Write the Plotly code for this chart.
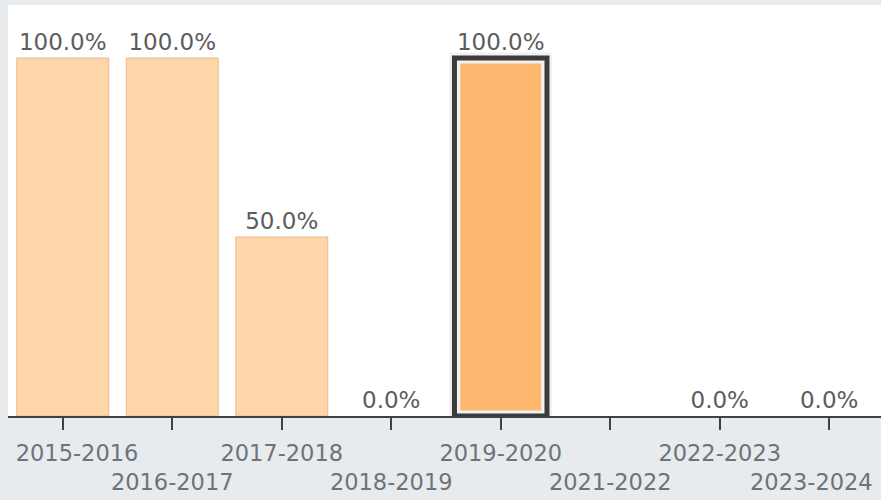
import plotly.graph_objects as go

categories = ["2015-2016", "2016-2017", "2017-2018", "2018-2019", "2019-2020",
              "2021-2022", "2022-2023", "2023-2024"]
values = [100, 100, 50, 0, 100, None, 0, 0]
highlight = "2019-2020"

labels = ["" if v is None else f"{v:.1f}%" for v in values]
hl_values = [v if c == highlight else None for c, v in zip(categories, values)]
edge_widths = [1 if v else 0 for v in values]

NB = "\u00a0"
ticktext = []
for i, c in enumerate(categories):
    t = c
    if i == 0:
        t = NB * 4 + t
    if i == len(categories) - 1:
        t = t + NB * 5
    if i % 2 == 1:
        t = "<br>" + t
    ticktext.append(t)

FONT = "DejaVu Sans"

fig = go.Figure()
fig.add_trace(go.Bar(
    x=categories, y=values, width=0.84,
    marker=dict(color="#FFD6A9", line=dict(color="#E8BC8E", width=edge_widths)),
    text=labels, textposition="outside", cliponaxis=False,
    textfont=dict(family=FONT, size=23, color="#5c5c5c"),
    hoverinfo="skip",
))
fig.add_trace(go.Bar(
    x=categories, y=hl_values, width=0.84,
    marker=dict(color="#FFB870", line=dict(color="#F1F1F1", width=11)),
    hoverinfo="skip",
))
fig.add_trace(go.Bar(
    x=categories, y=hl_values, width=0.845,
    marker=dict(color="rgba(0,0,0,0)", line=dict(color="#3b3b3b", width=5)),
    hoverinfo="skip",
))

fig.update_layout(
    width=881, height=500,
    barmode="overlay", showlegend=False,
    paper_bgcolor="#E8EBEE", plot_bgcolor="#FFFFFF",
    margin=dict(l=8, r=0, t=5, b=84, autoexpand=False),
    xaxis=dict(
        type="category", range=[-0.5, 7.473], automargin=False,
        tickmode="array", tickvals=categories, ticktext=ticktext, tickangle=0,
        showline=True, linecolor="#3d4247", linewidth=2,
        ticks="outside", ticklen=12, tickwidth=2, tickcolor="#3d4247",
        ticklabelstandoff=4,
        tickfont=dict(family=FONT, size=22.5, color="#6d737a"),
        showgrid=False, zeroline=False,
    ),
    yaxis=dict(range=[0, 114.8], visible=False, showgrid=False, zeroline=False,
               automargin=False),
)

fig.write_html("out.html", config={"displayModeBar": False},
               post_script="document.body.style.margin='0';")
